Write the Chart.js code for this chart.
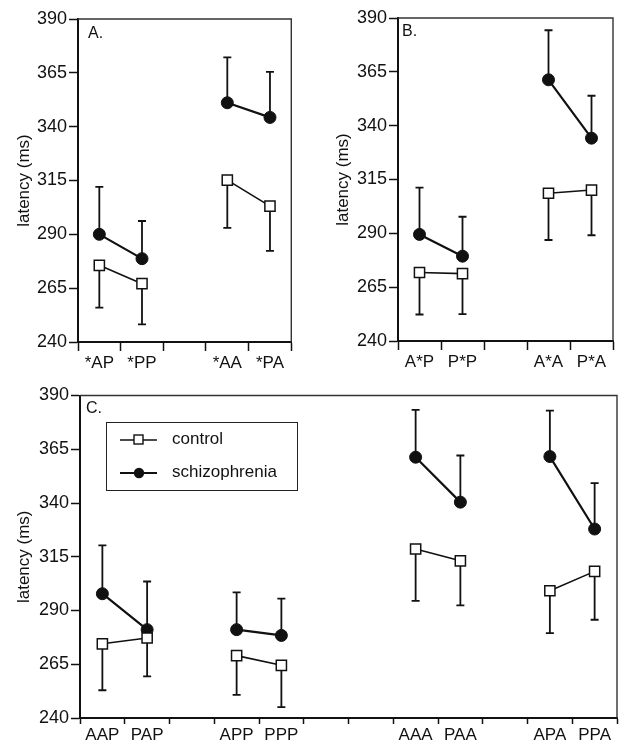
<!DOCTYPE html>
<html>
<head>
<meta charset="utf-8">
<script src="https://cdn.jsdelivr.net/npm/chart.js@4.4.1/dist/chart.umd.min.js"></script>
<style>
  body { margin: 0; background: #fff; }
  #wrap { position: relative; width: 626px; height: 746px; font-family: "Liberation Sans", Arial, sans-serif; color: #111; }
  canvas { position: absolute; }
  .tag { position: absolute; font-size: 16px; line-height: 16px; }
  #legend { position: absolute; left: 106px; top: 422px; width: 192px; height: 69px; box-sizing: border-box; border: 1.5px solid #222; }
  #legend svg { position: absolute; left: 13px; top: 0; }
  #legend span { position: absolute; left: 65px; font-size: 17px; line-height: 20px; white-space: nowrap; }
</style>
</head>
<body>
<div id="wrap">
  <canvas id="chartA" width="300" height="376" style="left:0;top:0"></canvas>
  <canvas id="chartB" width="326" height="376" style="left:300px;top:0"></canvas>
  <canvas id="chartC" width="626" height="374" style="left:0;top:372px"></canvas>
  <div class="tag" style="left:88px;top:25px">A.</div>
  <div class="tag" style="left:402px;top:23px">B.</div>
  <div class="tag" style="left:86px;top:400px">C.</div>
  <div id="legend">
    <svg width="40" height="66">
      <line x1="0" y1="17" x2="37" y2="17" stroke="#111" stroke-width="1.5"/>
      <rect x="14" y="12" width="9" height="9" fill="#fff" stroke="#111" stroke-width="1.4"/>
      <line x1="0" y1="50" x2="37" y2="50" stroke="#111" stroke-width="2"/>
      <circle cx="19" cy="50" r="5.2" fill="#111"/>
    </svg>
    <span style="top:6px">control</span>
    <span style="top:39px">schizophrenia</span>
  </div>
</div>
<script>
// panel A
const labelsA = ['*AP', '*PP', '', '*AA', '*PA'];
const controlA = [275.6, 267.1, null, 315.2, 303.1];
const controlLowA = [256, 248.2, null, 293, 282.3];
const schizA = [290, 278.7, null, 351.1, 344.3];
const schizHighA = [312, 296.2, null, 372.2, 365.4];

// panel B
const labelsB = ['A*P', 'P*P', '', 'A*A', 'P*A'];
const controlB = [271.8, 271.3, null, 308.6, 310.1];
const controlLowB = [252.3, 252.5, null, 286.9, 289.1];
const schizB = [289.5, 279.4, null, 361.3, 334.2];
const schizHighB = [311.2, 297.7, null, 384.3, 353.9];

// panel C
const labelsC = ['AAP', 'PAP', '', 'APP', 'PPP', '', '', 'AAA', 'PAA', '', 'APA', 'PPA'];
const controlC = [274.5, 277.2, null, 269, 264.5, null, null, 318.6, 313.1, null, 299.2, 308.2];
const controlLowC = [252.9, 259.4, null, 250.8, 245.1, null, null, 294.5, 292.4, null, 279.5, 285.7];
const schizC = [297.8, 281.1, null, 281.1, 278.4, null, null, 361.3, 340.4, null, 361.6, 327.9];
const schizHighC = [320.3, 303.5, null, 298.4, 295.5, null, null, 383.3, 362.1, null, 383, 349.2];

const yMin = 240, yMax = 390, yStep = 25;

const ink = '#111';
const font = { family: '"Liberation Sans", Arial, sans-serif', size: 17 };
const yFont = { family: '"Liberation Sans", Arial, sans-serif', size: 18 };

// one-sided error bars, drawn under the markers
const errorBars = {
    id: 'errorBars',
    beforeDatasetsDraw(chart) {
        const { ctx, scales: { x, y } } = chart;
        ctx.save();
        ctx.strokeStyle = ink;
        ctx.lineWidth = 1.8;
        chart.data.datasets.forEach(ds => {
            ds.data.forEach((v, i) => {
                const end = ds.errEnd[i];
                if (v == null || end == null) return;
                const px = x.getPixelForValue(i);
                const p0 = y.getPixelForValue(v);
                const p1 = y.getPixelForValue(end);
                ctx.beginPath();
                ctx.moveTo(px, p0); ctx.lineTo(px, p1);
                ctx.moveTo(px - 4, p1); ctx.lineTo(px + 4, p1);
                ctx.stroke();
            });
        });
        ctx.restore();
    }
};

// thin top + right edge of the box
const frame = {
    id: 'frame',
    afterDraw(chart) {
        const { ctx, chartArea: a } = chart;
        ctx.save();
        ctx.strokeStyle = '#333';
        ctx.lineWidth = 1.4;
        ctx.beginPath();
        ctx.moveTo(a.left, a.top);
        ctx.lineTo(a.right, a.top);
        ctx.lineTo(a.right, a.bottom);
        ctx.stroke();
        ctx.restore();
    }
};

function makeChart(id, labels, control, controlLow, schiz, schizHigh, o) {
    return new Chart(document.getElementById(id), {
        type: 'line',
        data: {
            labels: labels,
            datasets: [
                {
                    label: 'control', data: control, errEnd: controlLow,
                    borderColor: ink, borderWidth: 1.6, spanGaps: false,
                    pointStyle: 'rect', pointRadius: 7.2, pointBackgroundColor: '#fff',
                    pointBorderColor: ink, pointBorderWidth: 1.5
                },
                {
                    label: 'schizophrenia', data: schiz, errEnd: schizHigh,
                    borderColor: ink, borderWidth: 2.2, spanGaps: false,
                    pointStyle: 'circle', pointRadius: 6, pointBackgroundColor: ink,
                    pointBorderColor: ink, pointBorderWidth: 1
                }
            ]
        },
        options: {
            responsive: false,
            animation: false,
            devicePixelRatio: 1,
            layout: { padding: { top: o.padTop, right: o.padRight, left: 0, bottom: 0 } },
            plugins: { legend: { display: false }, tooltip: { enabled: false } },
            scales: {
                x: {
                    type: 'category',
                    offset: true,
                    grid: { offset: true, drawOnChartArea: false, drawTicks: true, tickLength: o.xTick, tickWidth: 1.5, tickColor: ink },
                    border: { display: true, color: ink, width: 2 },
                    ticks: { color: ink, font: font, padding: o.xPad, maxRotation: 0, autoSkip: false },
                    afterFit: s => { s.height = o.xHeight; }
                },
                y: {
                    min: yMin, max: yMax,
                    grid: { drawOnChartArea: false, drawTicks: true, tickLength: 9, tickWidth: 1.5, tickColor: ink },
                    border: { display: true, color: ink, width: 2 },
                    ticks: { stepSize: yStep, color: ink, font: yFont, padding: 2 },
                    title: { display: true, text: 'latency (ms)', color: ink, font: font, padding: { top: o.titlePad, bottom: 0 } },
                    afterFit: s => { s.width = o.yWidth; }
                }
            }
        },
        plugins: [errorBars, frame]
    });
}

makeChart('chartA', labelsA, controlA, controlLowA, schizA, schizHighA,
    { padTop: 19, padRight: 7, yWidth: 78, xHeight: 34, xTick: 9, xPad: 2, titlePad: 14 });
makeChart('chartB', labelsB, controlB, controlLowB, schizB, schizHighB,
    { padTop: 18, padRight: 13, yWidth: 98, xHeight: 35, xTick: 9, xPad: 2, titlePad: 33 });
makeChart('chartC', labelsC, controlC, controlLowC, schizC, schizHighC,
    { padTop: 23.5, padRight: 9, yWidth: 80, xHeight: 28, xTick: 6, xPad: 1, titlePad: 14 });
</script>
</body>
</html>
